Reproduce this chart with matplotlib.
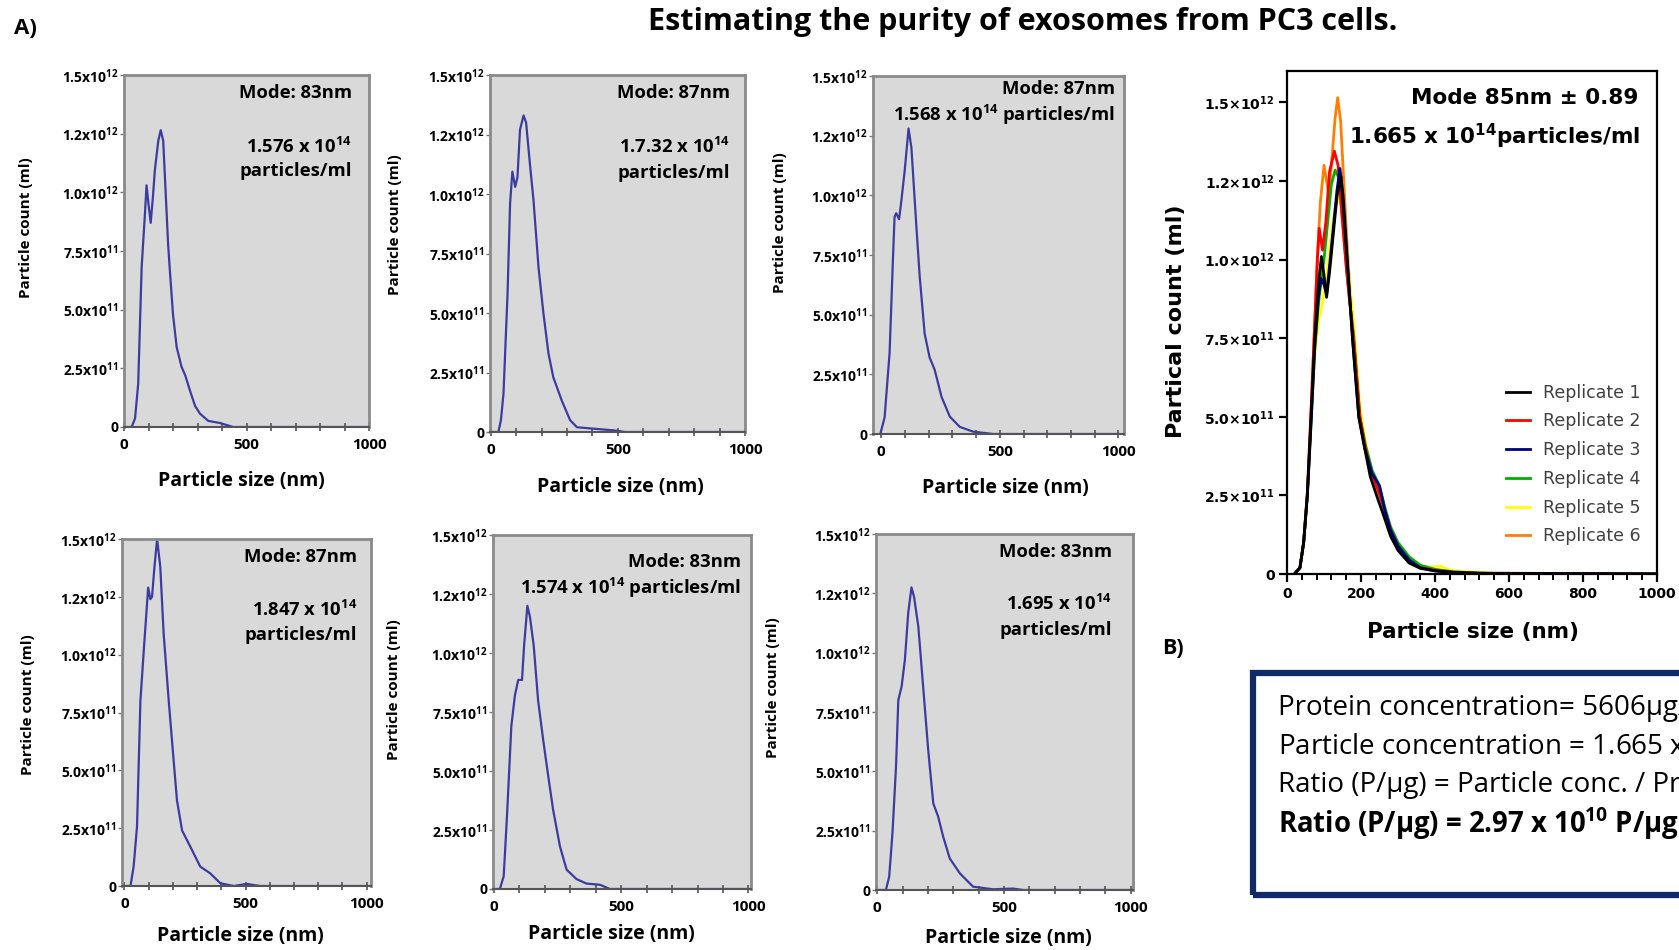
import matplotlib
matplotlib.use("Agg")
import matplotlib.pyplot as plt
from matplotlib.patches import Rectangle
from matplotlib.ticker import FixedLocator, FixedFormatter, MultipleLocator

plt.rcParams['font.family'] = ['Open Sans', 'DejaVu Sans']
plt.rcParams['mathtext.fontset'] = 'custom'
plt.rcParams['mathtext.rm'] = 'Open Sans'
plt.rcParams['mathtext.bf'] = 'Open Sans:bold'

W, H = 1679, 950

# ---- data: NTA size distributions (count in units of 1e12 per ml) ----
p1_size = [0, 31, 45, 58, 72, 85, 92, 100, 109, 118, 126, 140, 150, 160, 170, 180, 188, 200, 215, 235, 250, 269, 290, 310, 344, 392, 420, 446, 1000]
p1_count = [0, 0, 0.036, 0.185, 0.68, 0.9, 1.03, 0.95, 0.87, 0.98, 1.095, 1.22, 1.265, 1.22, 1.0, 0.78, 0.655, 0.48, 0.34, 0.256, 0.22, 0.156, 0.09, 0.057, 0.026, 0.017, 0.008, 0, 0]

p2_size = [0, 30, 40, 50, 66, 76, 85, 96, 105, 115, 129, 139, 155, 168, 188, 207, 227, 246, 280, 312, 339, 404, 483, 529, 1000]
p2_count = [0, 0, 0.05, 0.16, 0.58, 0.96, 1.094, 1.03, 1.07, 1.27, 1.33, 1.30, 1.115, 0.975, 0.69, 0.5, 0.33, 0.23, 0.13, 0.05, 0.02, 0.014, 0.007, 0, 0]

p3_size = [-4, 14, 35, 49, 56, 63, 75, 85, 99, 115, 127, 148, 162, 183, 204, 225, 254, 289, 331, 387, 472, 1000]
p3_count = [0, 0.07, 0.34, 0.73, 0.91, 0.925, 0.9, 0.98, 1.106, 1.28, 1.2, 0.87, 0.66, 0.42, 0.32, 0.27, 0.156, 0.073, 0.03, 0.01, 0, 0]

p4_size = [0, 25, 38, 52, 66, 80, 98, 107, 114, 124, 135, 148, 162, 183, 203, 217, 238, 272, 313, 354, 396, 451, 505, 560, 1000]
p4_count = [0, 0, 0.084, 0.257, 0.8, 1.02, 1.29, 1.24, 1.25, 1.38, 1.5, 1.38, 1.09, 0.8, 0.545, 0.37, 0.24, 0.17, 0.084, 0.055, 0.012, 0, 0.009, 0, 0]

p5_size = [0, 24, 39, 52, 69, 83, 96, 111, 119, 132, 142, 157, 174, 194, 214, 233, 260, 286, 325, 364, 417, 456, 1000]
p5_count = [0, 0, 0.054, 0.31, 0.69, 0.82, 0.886, 0.886, 1.03, 1.2, 1.154, 1.03, 0.80, 0.632, 0.477, 0.336, 0.18, 0.082, 0.042, 0.023, 0.018, 0, 0]

p6_size = [0, 34, 47, 60, 74, 83, 96, 109, 122, 135, 145, 162, 181, 201, 221, 240, 260, 286, 326, 378, 457, 536, 576, 1000]
p6_count = [0, 0, 0.056, 0.24, 0.52, 0.80, 0.857, 0.97, 1.166, 1.275, 1.236, 1.11, 0.857, 0.59, 0.365, 0.31, 0.225, 0.133, 0.07, 0.014, 0.003, 0.006, 0, 0]

# panel B replicates
rep1_size = [20, 35, 45, 55, 65, 75, 85, 93, 100, 107, 115, 125, 135, 146, 155, 165, 177, 194, 210, 225, 245, 260, 280, 300, 330, 360, 400, 450, 520, 1000]
rep1_count = [0, 0.02, 0.1, 0.25, 0.5, 0.75, 0.92, 1.01, 0.95, 0.88, 0.96, 1.08, 1.2, 1.265, 1.12, 0.96, 0.75, 0.5, 0.4, 0.31, 0.24, 0.19, 0.12, 0.075, 0.035, 0.018, 0.01, 0.005, 0.002, 0]

rep2_size = [20, 35, 45, 55, 65, 75, 82, 87, 96, 105, 115, 128, 138, 150, 160, 170, 180, 197, 212, 228, 245, 262, 280, 300, 330, 360, 400, 450, 520, 1000]
rep2_count = [0, 0.02, 0.1, 0.26, 0.52, 0.8, 1.0, 1.10, 1.03, 1.12, 1.28, 1.345, 1.3, 1.12, 0.98, 0.86, 0.75, 0.5, 0.4, 0.32, 0.27, 0.21, 0.14, 0.085, 0.04, 0.02, 0.012, 0.006, 0.003, 0]

rep3_size = [20, 35, 45, 55, 65, 75, 85, 92, 100, 107, 115, 125, 135, 143, 152, 162, 177, 194, 210, 230, 250, 265, 280, 300, 330, 360, 400, 450, 520, 1000]
rep3_count = [0, 0.02, 0.1, 0.25, 0.48, 0.72, 0.88, 0.94, 0.92, 0.89, 0.98, 1.1, 1.22, 1.29, 1.2, 1.02, 0.75, 0.5, 0.4, 0.32, 0.28, 0.2, 0.14, 0.09, 0.045, 0.02, 0.01, 0.005, 0.002, 0]

rep4_size = [20, 35, 45, 55, 65, 75, 85, 92, 100, 110, 120, 130, 140, 150, 160, 170, 180, 197, 212, 230, 250, 265, 280, 300, 330, 360, 400, 450, 520, 580, 1000]
rep4_count = [0, 0.02, 0.1, 0.25, 0.48, 0.72, 0.86, 0.93, 1.0, 1.12, 1.24, 1.285, 1.26, 1.13, 0.98, 0.86, 0.76, 0.5, 0.41, 0.33, 0.28, 0.21, 0.15, 0.1, 0.055, 0.028, 0.015, 0.007, 0.003, 0.001, 0]

rep5_size = [20, 35, 45, 55, 65, 75, 86, 95, 105, 115, 125, 139, 150, 160, 170, 180, 197, 212, 230, 250, 265, 280, 300, 330, 360, 390, 415, 440, 500, 560, 1000]
rep5_count = [0, 0.02, 0.1, 0.26, 0.5, 0.7, 0.81, 0.86, 0.93, 1.03, 1.13, 1.21, 1.16, 1.05, 0.92, 0.8, 0.53, 0.42, 0.32, 0.25, 0.19, 0.13, 0.08, 0.04, 0.025, 0.022, 0.025, 0.012, 0.006, 0.002, 0]

rep6_size = [20, 35, 45, 55, 65, 75, 82, 90, 100, 107, 113, 120, 130, 137, 145, 152, 160, 170, 180, 197, 212, 230, 250, 265, 280, 300, 330, 360, 400, 450, 520, 1000]
rep6_count = [0, 0.02, 0.1, 0.26, 0.52, 0.8, 1.0, 1.18, 1.30, 1.25, 1.21, 1.3, 1.45, 1.515, 1.44, 1.28, 1.1, 0.9, 0.76, 0.5, 0.4, 0.31, 0.25, 0.2, 0.14, 0.085, 0.045, 0.025, 0.012, 0.006, 0.002, 0]

small_yticks = [0, 0.25, 0.5, 0.75, 1.0, 1.25, 1.5]
small_ylabels = ['0', '2.5x10$^{\\mathbf{11}}$', '5.0x10$^{\\mathbf{11}}$', '7.5x10$^{\\mathbf{11}}$',
                 '1.0x10$^{\\mathbf{12}}$', '1.2x10$^{\\mathbf{12}}$', '1.5x10$^{\\mathbf{12}}$']
big_ylabels = ['0', '2.5\u00d710$^{\\mathbf{11}}$', '5.0\u00d710$^{\\mathbf{11}}$', '7.5\u00d710$^{\\mathbf{11}}$',
               '1.0\u00d710$^{\\mathbf{12}}$', '1.2\u00d710$^{\\mathbf{12}}$', '1.5\u00d710$^{\\mathbf{12}}$']

rep_names = ['Replicate 1', 'Replicate 2', 'Replicate 3', 'Replicate 4', 'Replicate 5', 'Replicate 6']
rep_colors = ['#000000', '#ff0000', '#000080', '#00b000', '#ffff00', '#ff8000']

fig = plt.figure(figsize=(W / 100, H / 100), dpi=100)


def box(l, t, r, b):
    return [l / W, 1 - b / H, (r - l) / W, (b - t) / H]


def ftext(x, y, s, **kw):
    fig.text(x / W, 1 - y / H, s, **kw)


def small_panel(rect, xlim, xs, ys, mode, conc, ylab_xy, xlab_xy):
    ax = fig.add_axes(box(*rect))
    ax.set_facecolor('#d9d9d9')
    ax.plot(xs, ys, color='#3c3ca0', lw=1.6)
    ax.set_xlim(*xlim)
    ax.set_ylim(0, 1.5)
    for s in ['left', 'top', 'right']:
        ax.spines[s].set_color('#8a8a8a')
        ax.spines[s].set_linewidth(2)
    ax.spines['bottom'].set_color('#555555')
    ax.spines['bottom'].set_linewidth(1.5)
    ax.yaxis.set_major_locator(FixedLocator(small_yticks))
    ax.yaxis.set_major_formatter(FixedFormatter(small_ylabels))
    ax.xaxis.set_major_locator(FixedLocator([0, 500, 1000]))
    ax.xaxis.set_minor_locator(MultipleLocator(100))
    ax.tick_params(axis='y', direction='out', length=3, width=1, color='#777777',
                   labelsize=10, pad=1)
    ax.tick_params(axis='x', which='both', direction='inout', length=6, width=1.2,
                   color='#555555', labelsize=11, pad=5)
    for lab in ax.get_xticklabels() + ax.get_yticklabels():
        lab.set_fontweight('bold')
    # annotation texts, right aligned
    for (tx, ty, s) in mode + conc:
        ftext(tx, ty, s, ha='right', va='center', fontsize=13.3, fontweight='bold')
    ftext(ylab_xy[0], ylab_xy[1], 'Particle count (ml)', rotation=90, ha='center', va='center',
          fontsize=11, fontweight='bold')
    ftext(xlab_xy[0], xlab_xy[1], 'Particle size (nm)', ha='center', va='center',
          fontsize=14, fontweight='bold')
    return ax


sup14 = ' x 10$^{\\mathbf{14}}$'

small_panel((124, 75, 369, 427), (0, 1000), p1_size, p1_count,
            [(352, 93, 'Mode: 83nm')],
            [(352, 147, '1.576' + sup14), (352, 171, 'particles/ml')],
            (26, 228), (241, 481))
small_panel((490, 75, 745, 432), (-3, 1000), p2_size, p2_count,
            [(730, 93, 'Mode: 87nm')],
            [(730, 147, '1.7.32' + sup14), (730, 173, 'particles/ml')],
            (395, 225), (620, 487))
small_panel((873, 76, 1124, 434), (-35, 1024), p3_size, p3_count,
            [(1115, 89, 'Mode: 87nm')],
            [(1115, 115, '1.568' + sup14 + ' particles/ml')],
            (780, 223), (1005, 488))
small_panel((122, 539, 371, 886), (-10, 1018), p4_size, p4_count,
            [(357, 557, 'Mode: 87nm')],
            [(357, 610, '1.847' + sup14), (357, 635, 'particles/ml')],
            (28, 705), (240, 936))
small_panel((493, 535, 751, 889), (-3, 1010), p5_size, p5_count,
            [(741, 562, 'Mode: 83nm')],
            [(741, 588, '1.574' + sup14 + ' particles/ml')],
            (394, 690), (611, 934))
small_panel((876, 534, 1133, 890), (-5, 1009), p6_size, p6_count,
            [(1112, 552, 'Mode: 83nm')],
            [(1112, 604, '1.695' + sup14), (1112, 630, 'particles/ml')],
            (773, 688), (1008, 938))

# ---- panel B ----
axb = fig.add_axes(box(1287, 71, 1657, 574))
rep_data = [(rep1_size, rep1_count), (rep2_size, rep2_count), (rep3_size, rep3_count),
            (rep4_size, rep4_count), (rep5_size, rep5_count), (rep6_size, rep6_count)]
handles = [None] * 6
for i in [5, 4, 3, 1, 2, 0]:
    xs, ys = rep_data[i]
    ln, = axb.plot(xs, ys, color=rep_colors[i], lw=2, label=rep_names[i])
    handles[i] = ln
axb.set_xlim(0, 1000)
axb.set_ylim(0, 1.6)
for s in axb.spines.values():
    s.set_linewidth(1.6)
    s.set_color('black')
axb.yaxis.set_major_locator(FixedLocator(small_yticks))
axb.yaxis.set_major_formatter(FixedFormatter(big_ylabels))
axb.xaxis.set_major_locator(MultipleLocator(200))
axb.xaxis.set_minor_locator(MultipleLocator(40))
axb.tick_params(axis='both', which='major', direction='out', length=6, width=1.6, labelsize=10, pad=3)
axb.tick_params(axis='x', which='minor', direction='out', length=4, width=1.4)
for lab in axb.get_xticklabels() + axb.get_yticklabels():
    lab.set_fontfamily('DejaVu Sans')
    lab.set_fontweight('bold')
    lab.set_math_fontfamily('dejavusans')
leg = axb.legend(handles=handles, loc='upper left', bbox_to_anchor=(1490 / W, 1 - 368 / H),
                 bbox_transform=fig.transFigure, frameon=False,
                 handlelength=1.4, handletextpad=0.75, labelspacing=0.62,
                 prop={'family': 'DejaVu Sans', 'size': 12.5})
for t in leg.get_texts():
    t.set_color('#404040')
for l in leg.get_lines():
    l.set_linewidth(2)

ftext(1638, 98, 'Mode 85nm \u00b1 0.89', ha='right', va='center', fontsize=15.5,
      fontweight='bold', family='DejaVu Sans')
ftext(1640, 136, '1.665 x 10$^{\\mathbf{14}}$particles/ml', ha='right', va='center', fontsize=15.5,
      fontweight='bold', family='DejaVu Sans', math_fontfamily='dejavusans')
ftext(1176, 321, 'Partical count (ml)', rotation=90, ha='center', va='center', fontsize=16,
      fontweight='bold', family='DejaVu Sans')
ftext(1473, 632, 'Particle size (nm)', ha='center', va='center', fontsize=15.5,
      fontweight='bold', family='DejaVu Sans')

# ---- titles and labels ----
ftext(1023, 22, 'Estimating the purity of exosomes from PC3 cells.', ha='center', va='center',
      fontsize=22, fontweight='bold')
ftext(14, 28, 'A)', ha='left', va='center', fontsize=16, fontweight='bold')
ftext(1162, 648, 'B)', ha='left', va='center', fontsize=15.5, fontweight='bold')

# ---- ratio box (runs off the right edge, as in the source figure) ----
fig.patches.append(Rectangle((1253 / W, 1 - 895 / H), 500 / W, 222 / H, transform=fig.transFigure,
                             fill=False, edgecolor='#0f2a66', lw=4.5))
box_lines = ['Protein concentration= 5606\u00b5g/ml',
             'Particle concentration = 1.665 x 10$^{14}$ particles/ml',
             'Ratio (P/\u00b5g) = Particle conc. / Protein conc.']
for i, s in enumerate(box_lines):
    ftext(1278, [708, 746, 785][i], s, ha='left', va='center', fontsize=20)
ftext(1278, 824, 'Ratio (P/\u00b5g) = 2.97 x 10$^{\\mathbf{10}}$ P/\u00b5g', ha='left', va='center',
      fontsize=19.8, fontweight='bold')

fig.savefig('out.png', dpi=100)
